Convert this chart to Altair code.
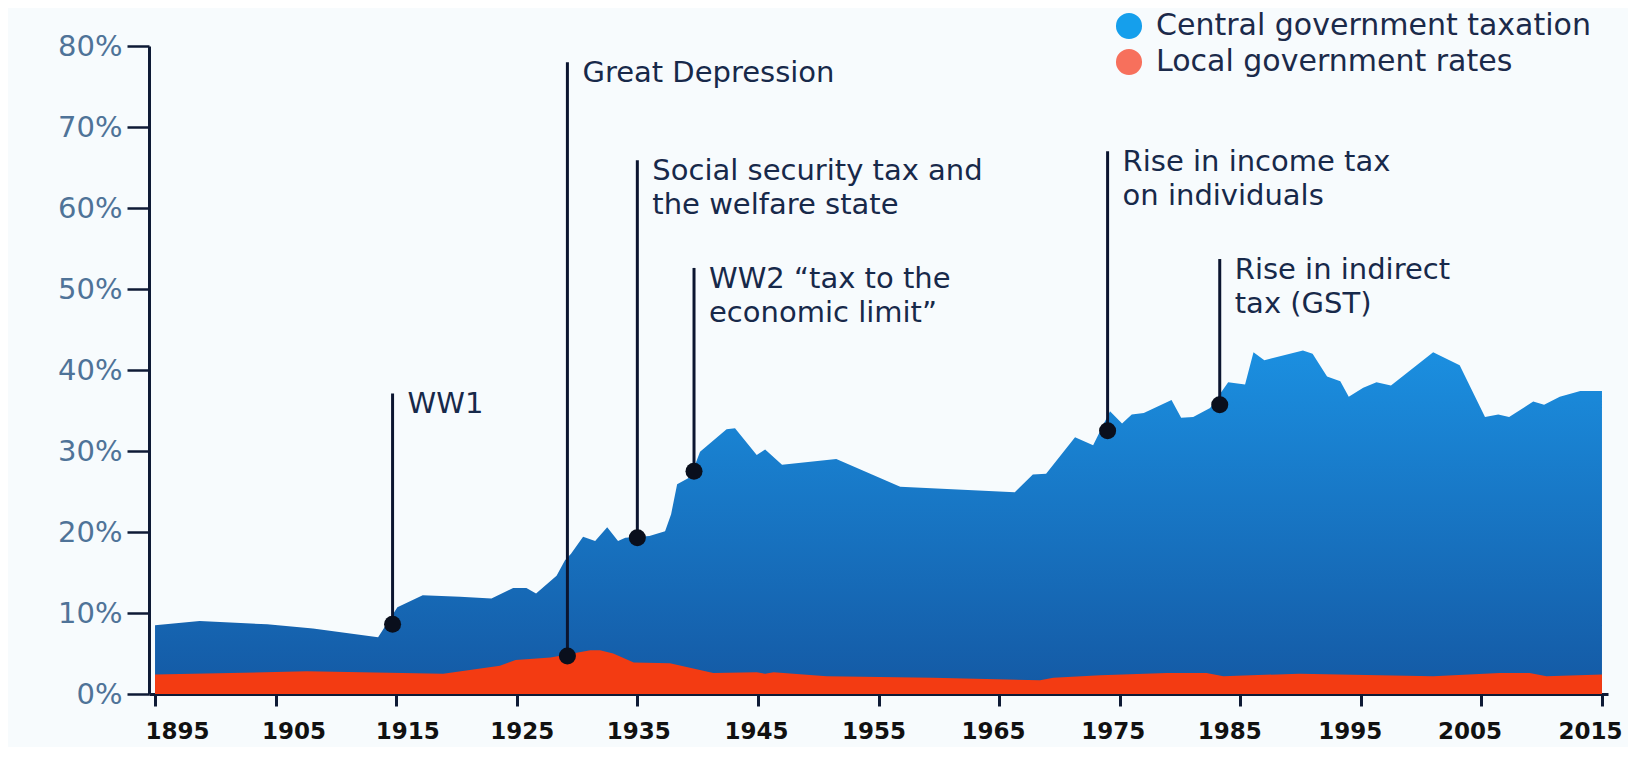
import altair as alt
import pandas as pd

# ---- data ----
total_years = [1895, 1898.7, 1904.3, 1908.1, 1913.5, 1915.1, 1917.2, 1920.3, 1922.9, 1924.7,
               1925.8, 1926.6, 1928.3, 1929.0, 1929.5, 1930.5, 1931.5, 1932.5, 1933.4, 1934.0,
               1936.0, 1937.3, 1937.8, 1938.3, 1939.4, 1940.2, 1942.4, 1943.1, 1944.9, 1945.6,
               1947.0, 1951.5, 1956.8, 1966.3, 1967.8, 1968.9, 1971.3, 1972.8, 1974.2, 1975.2,
               1976.0, 1977.0, 1979.3, 1980.1, 1981.1, 1982.5, 1984.0, 1985.4, 1986.1, 1987.0,
               1990.2, 1991.0, 1992.2, 1993.3, 1994.0, 1995.2, 1996.3, 1997.5, 2001.0, 2003.2,
               2005.3, 2006.4, 2007.3, 2009.3, 2010.2, 2011.5, 2013.2, 2015]
total_vals = [8.5, 9.0, 8.6, 8.1, 7.0, 10.7, 12.2, 12.0, 11.8, 13.1,
              13.1, 12.4, 14.6, 16.5, 17.3, 19.4, 18.9, 20.6, 18.9, 19.3,
              19.5, 20.1, 22.2, 25.9, 26.8, 29.9, 32.7, 32.8, 29.5, 30.2,
              28.3, 29.0, 25.6, 24.9, 27.1, 27.2, 31.7, 30.7, 34.9, 33.4,
              34.5, 34.7, 36.3, 34.1, 34.2, 35.3, 38.5, 38.2, 42.2, 41.2,
              42.4, 42.0, 39.2, 38.6, 36.7, 37.8, 38.5, 38.1, 42.2, 40.6,
              34.2, 34.5, 34.2, 36.1, 35.7, 36.7, 37.4, 37.4]

local_years = [1895, 1907.6, 1918.9, 1923.6, 1924.9, 1927.8, 1931.1, 1931.9, 1933.0, 1934.7,
               1937.7, 1941.3, 1944.9, 1945.6, 1946.3, 1950.7, 1959.5, 1968.4, 1969.5, 1973.4,
               1978.9, 1982.2, 1983.6, 1989.9, 2001.0, 2006.5, 2009.0, 2010.4, 2015]
local_vals = [2.4, 2.8, 2.5, 3.5, 4.2, 4.5, 5.4, 5.4, 5.0, 3.9,
              3.8, 2.6, 2.7, 2.5, 2.7, 2.2, 2.0, 1.7, 2.0, 2.3,
              2.6, 2.6, 2.2, 2.5, 2.2, 2.6, 2.6, 2.2, 2.4]

ann_years = [1914.7, 1929.2, 1935.0, 1939.7, 1974.0, 1983.3]
ann_tops = [37.1, 78.0, 65.9, 52.6, 67.0, 53.7]
ann_dots = [8.6, 4.7, 19.3, 27.5, 32.5, 35.7]
ann_labels = ["WW1", "Great Depression", "Social security tax and\nthe welfare state",
              "WW2 \u201ctax to the\neconomic limit\u201d", "Rise in income tax\non individuals",
              "Rise in indirect\ntax (GST)"]

series = ["Central government taxation", "Local government rates"]
series_colors = ["#159fec", "#f7705c"]

tick_years = [1895, 1905, 1915, 1925, 1935, 1945, 1955, 1965, 1975, 1985, 1995, 2005, 2015]
tick_label_shift = [22, 18, 11, 5, 1, -2, -5, -6, -7, -11, -11, -12, -12]
tick_pcts = [0, 10, 20, 30, 40, 50, 60, 70, 80]

# ---- tables ----
df_total = pd.DataFrame({"year": total_years, "pct": total_vals})
df_local = pd.DataFrame({"year": local_years, "pct": local_vals})
df_ann = pd.DataFrame({"year": ann_years, "pct": ann_tops, "dot": ann_dots, "label": ann_labels})
df_leg = pd.DataFrame({"series": series})

AXIS_COLOR = "#0e1a35"
FONT = "DejaVu Sans"

x_scale = alt.Scale(domain=[1894.5, 2015.5], nice=False, zero=False)
y_scale = alt.Scale(domain=[0, 80], nice=False)

label_offset = {
    "condition": [{"test": f"datum.value == {yr}", "value": s}
                  for yr, s in zip(tick_years, tick_label_shift)],
    "value": 0,
}

x_axis = alt.Axis(values=tick_years, format="d", title=None, grid=False,
                  tickSize=12, tickWidth=3, tickColor=AXIS_COLOR,
                  domainColor=AXIS_COLOR, domainWidth=3,
                  labelFont=FONT, labelFontWeight="bold", labelFontSize=23,
                  labelColor="#111111", labelPadding=14, labelOffset=label_offset,
                  labelFlush=False, labelOverlap=False)
y_axis = alt.Axis(values=tick_pcts, labelExpr="datum.value + '%'", title=None, grid=False,
                  tickSize=22, tickWidth=2.5, tickColor=AXIS_COLOR,
                  domainColor=AXIS_COLOR, domainWidth=3,
                  labelFont=FONT, labelFontSize=29, labelColor="#4f7398",
                  labelPadding=5, labelFlush=False, labelOverlap=False)

X = alt.X("year:Q", scale=x_scale, axis=x_axis)
Y = alt.Y("pct:Q", scale=y_scale, axis=y_axis)

blue_grad = {
    "gradient": "linear", "x1": 0, "x2": 0, "y1": 0, "y2": 1,
    "stops": [{"offset": 0, "color": "#1b8fe0"}, {"offset": 1, "color": "#1459a4"}],
}

central = alt.Chart(df_total).mark_area(color=blue_grad, interpolate="linear").encode(x=X, y=Y)
local = alt.Chart(df_local).mark_area(color="#f33b12", interpolate="linear").encode(x=X, y=Y)

rules = alt.Chart(df_ann).mark_rule(color="#0b1530", strokeWidth=3).encode(
    x=X, y=Y, y2=alt.Y2("dot:Q"))
dots = alt.Chart(df_ann).mark_point(filled=True, shape="circle", size=290,
                                    color="#0a0f1c", opacity=1).encode(
    x=X, y=alt.Y("dot:Q", scale=y_scale, axis=y_axis))
texts = alt.Chart(df_ann).mark_text(align="left", baseline="top", dx=15, dy=-3,
                                    lineBreak="\n", lineHeight=34, font=FONT,
                                    fontSize=29, color="#17294a").encode(
    x=X, y=Y, text="label:N")

legend_layer = alt.Chart(df_leg).mark_point(filled=True, size=0, opacity=0).encode(
    color=alt.Color("series:N",
                    scale=alt.Scale(domain=series, range=series_colors),
                    legend=alt.Legend(orient="none", legendX=965, legendY=-35,
                                      direction="vertical", title=None, padding=0,
                                      symbolType="circle", symbolSize=680,
                                      symbolOpacity=1, symbolStrokeWidth=0,
                                      labelFont=FONT, labelFontSize=30,
                                      labelColor="#1b2a4a", labelOffset=12,
                                      labelLimit=1000, rowPadding=6)))

chart = alt.layer(central, local, rules, dots, texts, legend_layer).properties(
    width=1459, height=648,
    padding={"left": 141, "top": 38, "right": 20, "bottom": 53},
    autosize=alt.AutoSizeParams(type="none"),
    background="#f7fbfd",
).configure_view(stroke=None)

chart.save("out.html", embed_options={"renderer": "svg", "actions": False})
